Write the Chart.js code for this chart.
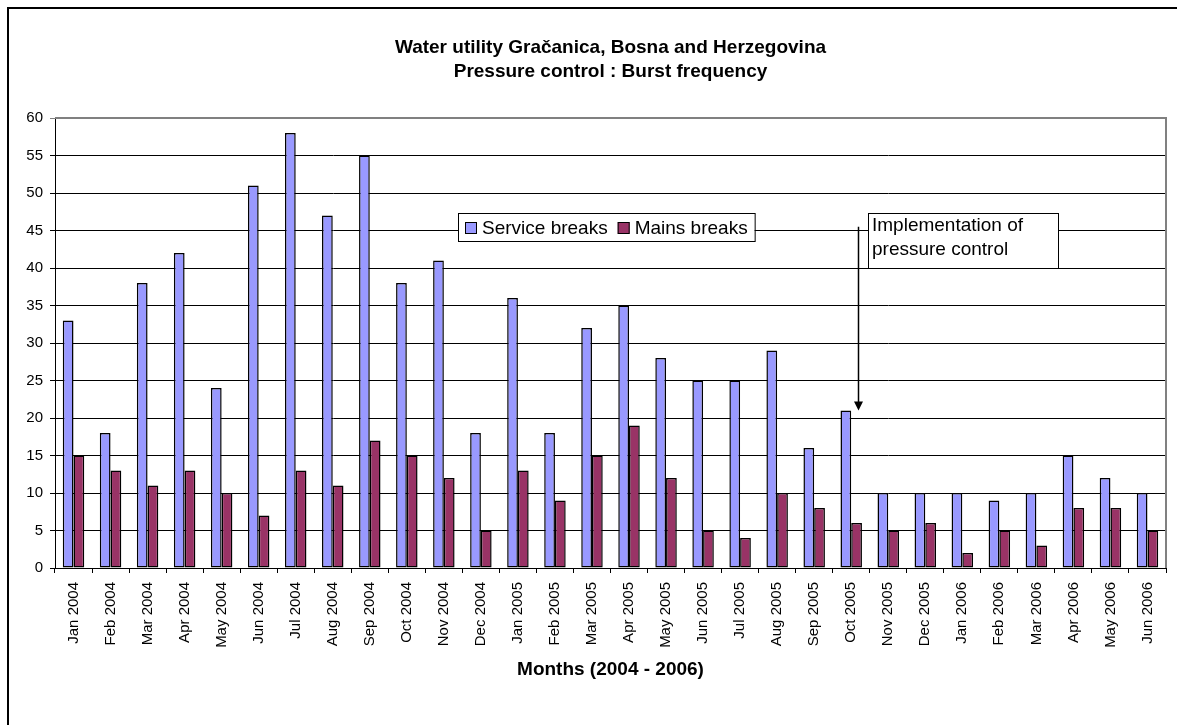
<!DOCTYPE html>
<html>
<head>
<meta charset="utf-8">
<title>Burst frequency</title>
<script src="https://cdn.jsdelivr.net/npm/chart.js@4/dist/chart.umd.min.js"></script>
<style>
  html, body { margin: 0; padding: 0; background: #fff; }
  #wrap { width: 1177px; height: 725px; }
</style>
</head>
<body>
<div id="wrap"><canvas id="c" width="1177" height="725"></canvas></div>
<script>
// Monthly burst counts, Jan 2004 – Jun 2006
const months = [
  'Jan 2004','Feb 2004','Mar 2004','Apr 2004','May 2004','Jun 2004',
  'Jul 2004','Aug 2004','Sep 2004','Oct 2004','Nov 2004','Dec 2004',
  'Jan 2005','Feb 2005','Mar 2005','Apr 2005','May 2005','Jun 2005',
  'Jul 2005','Aug 2005','Sep 2005','Oct 2005','Nov 2005','Dec 2005',
  'Jan 2006','Feb 2006','Mar 2006','Apr 2006','May 2006','Jun 2006'
];
const serviceBreaks = [33,18,38,42,24,51,58,47,55,38,41,18,36,18,32,35,28,25,25,29,16,21,10,10,10,9,10,15,12,10];
const mainsBreaks   = [15,13,11,13,10,7,13,11,17,15,12,5,13,9,15,19,12,5,4,10,8,6,5,6,2,5,3,8,8,5];

const titleLines = ['Water utility Gračanica, Bosna and Herzegovina', 'Pressure control : Burst frequency'];
const xAxisTitle = 'Months (2004 - 2006)';
const noteLines = ['Implementation of', 'pressure control'];
const noteMonth = 'Oct 2005';

const FONT = '"Liberation Sans", Arial, Helvetica, sans-serif';

const decorations = {
  id: 'decorations',
  beforeDraw(chart) {
    const ctx = chart.ctx;
    ctx.save();
    ctx.fillStyle = '#fff';
    ctx.fillRect(0, 0, chart.width, chart.height);
    ctx.restore();
  },
  afterDraw(chart) {
    const ctx = chart.ctx;
    const area = chart.chartArea;
    const xs = chart.scales.x, ys = chart.scales.y;
    const cx = (area.left + area.right) / 2;
    ctx.save();

    // outer frame
    ctx.strokeStyle = '#000';
    ctx.lineWidth = 2;
    ctx.strokeRect(8, 8, chart.width + 20, chart.height + 20);

    // plot area frame (top and right)
    ctx.strokeStyle = '#808080';
    ctx.lineWidth = 2;
    ctx.beginPath();
    ctx.moveTo(area.left, area.top);
    ctx.lineTo(area.right, area.top);
    ctx.lineTo(area.right, area.bottom);
    ctx.stroke();

    // titles
    ctx.fillStyle = '#000';
    ctx.textAlign = 'center';
    ctx.textBaseline = 'alphabetic';
    ctx.font = 'bold 19px ' + FONT;
    ctx.fillText(titleLines[0], cx, 53);
    ctx.fillText(titleLines[1], cx, 77);
    ctx.fillText(xAxisTitle, cx, 675);

    // legend
    ctx.font = '19px ' + FONT;
    ctx.textAlign = 'left';
    const sets = chart.data.datasets;
    const sw = 12, gap = 5, between = 10, padX = 7;
    let total = padX * 2;
    sets.forEach((d, i) => {
      total += sw + gap + ctx.measureText(d.label).width + (i ? between : 0);
    });
    const lx = 458, ly = 213, lh = 28;
    ctx.fillStyle = '#fff';
    ctx.fillRect(lx, ly, total, lh);
    ctx.strokeStyle = '#000';
    ctx.lineWidth = 1;
    ctx.strokeRect(lx + 0.5, ly + 0.5, total, lh);
    let px = lx + padX;
    sets.forEach((d, i) => {
      if (i) px += between;
      ctx.fillStyle = d.backgroundColor;
      ctx.fillRect(px, ly + 9, sw, sw);
      ctx.strokeStyle = '#000';
      ctx.strokeRect(px + 0.5, ly + 9.5, sw - 1, sw - 1);
      px += sw + gap;
      ctx.fillStyle = '#000';
      ctx.fillText(d.label, px, ly + 21);
      px += ctx.measureText(d.label).width;
    });

    // note box and arrow
    const idx = months.indexOf(noteMonth);
    const ax = Math.round(xs.getPixelForValue(idx) + 7) + 0.5;
    const yTop = ys.getPixelForValue(45.5);
    const yTip = ys.getPixelForValue(serviceBreaks[idx]);
    ctx.strokeStyle = '#000';
    ctx.lineWidth = 1.5;
    ctx.beginPath();
    ctx.moveTo(ax, yTop);
    ctx.lineTo(ax, yTip - 8);
    ctx.stroke();
    ctx.fillStyle = '#000';
    ctx.beginPath();
    ctx.moveTo(ax - 4.5, yTip - 9);
    ctx.lineTo(ax + 4.5, yTip - 9);
    ctx.lineTo(ax, yTip);
    ctx.closePath();
    ctx.fill();

    const bx = 868, by = 213, bw = 190, bh = 55;
    ctx.fillStyle = '#fff';
    ctx.fillRect(bx, by, bw, bh);
    ctx.strokeStyle = '#000';
    ctx.lineWidth = 1;
    ctx.strokeRect(bx + 0.5, by + 0.5, bw, bh);
    ctx.fillStyle = '#000';
    ctx.font = '19px ' + FONT;
    ctx.fillText(noteLines[0], bx + 4, 231);
    ctx.fillText(noteLines[1], bx + 4, 255);

    ctx.restore();
  }
};

new Chart(document.getElementById('c'), {
  type: 'bar',
  data: {
    labels: months,
    datasets: [
      { label: 'Service breaks', data: serviceBreaks, backgroundColor: '#9999FF', borderColor: '#000', borderWidth: 1.5, borderSkipped: false },
      { label: 'Mains breaks',   data: mainsBreaks,   backgroundColor: '#993366', borderColor: '#000', borderWidth: 1.5, borderSkipped: false }
    ]
  },
  options: {
    responsive: false,
    devicePixelRatio: 1,
    animation: false,
    layout: { padding: { top: 118, right: 11, left: 0, bottom: 0 } },
    datasets: { bar: { categoryPercentage: 0.58, barPercentage: 1 } },
    plugins: {
      legend: { display: false },
      title: { display: false },
      tooltip: { enabled: false }
    },
    scales: {
      x: {
        grid: { drawOnChartArea: false, drawTicks: true, tickLength: 5, color: '#000', offset: true },
        border: { color: '#000', width: 1 },
        ticks: {
          autoSkip: false, minRotation: 90, maxRotation: 90, padding: 9,
          color: '#000', font: { family: FONT, size: 15 }
        },
        afterFit(scale) { scale.height = 157; }
      },
      y: {
        min: 0, max: 60,
        grid: {
          color: (c) => (c.tick && c.tick.value === 60 ? '#808080' : '#000'),
          tickLength: 5, lineWidth: 1
        },
        border: { color: '#000', width: 1 },
        ticks: { stepSize: 5, padding: 7, color: '#000', font: { family: FONT, size: 15 } },
        afterFit(scale) { scale.width = 55; }
      }
    }
  },
  plugins: [decorations]
});
</script>
</body>
</html>
